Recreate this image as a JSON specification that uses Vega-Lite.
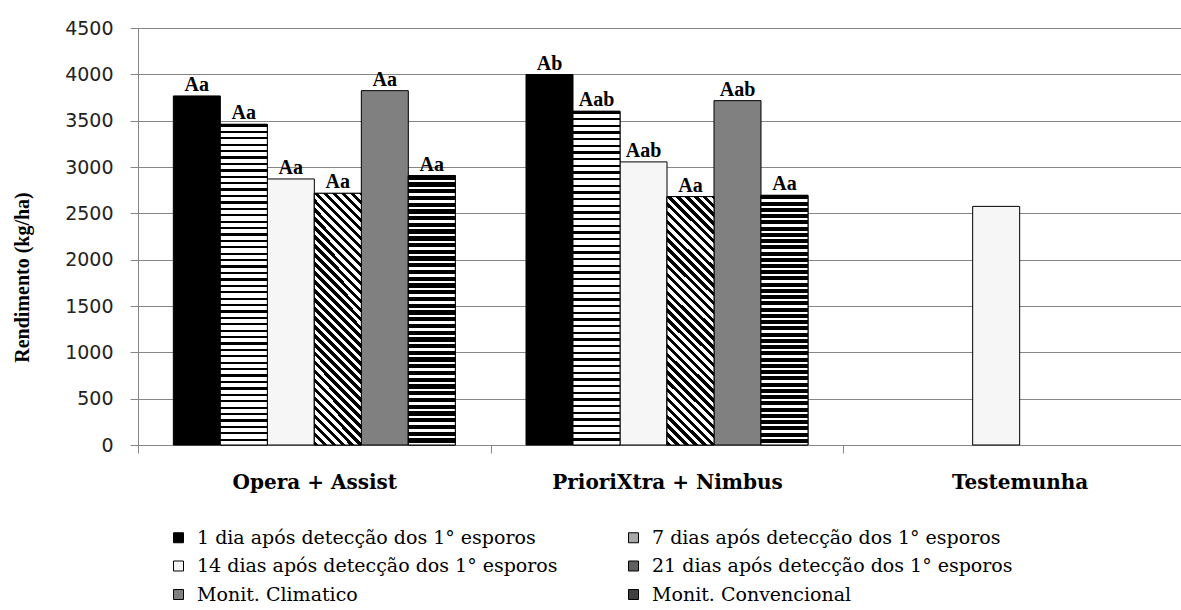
{
  "$schema": "https://vega.github.io/schema/vega-lite/v6.json",
  "width": 1043,
  "height": 417,
  "autosize": {"type": "none"},
  "padding": {"left": 138, "top": 28, "right": 0, "bottom": 165},
  "background": "white",
  "view": {"stroke": null},
  "data": {
    "values": [
      {"grupo": "Opera + Assist", "serie": "1 dia após detecção dos 1° esporos", "valor": 3767, "rotulo": "Aa"},
      {"grupo": "Opera + Assist", "serie": "7 dias após detecção dos 1° esporos", "valor": 3460, "rotulo": "Aa"},
      {"grupo": "Opera + Assist", "serie": "14 dias após detecção dos 1° esporos", "valor": 2871, "rotulo": "Aa"},
      {"grupo": "Opera + Assist", "serie": "21 dias após detecção dos 1° esporos", "valor": 2716, "rotulo": "Aa"},
      {"grupo": "Opera + Assist", "serie": "Monit. Climatico", "valor": 3824, "rotulo": "Aa"},
      {"grupo": "Opera + Assist", "serie": "Monit. Convencional", "valor": 2907, "rotulo": "Aa"},
      {"grupo": "PrioriXtra + Nimbus", "serie": "1 dia após detecção dos 1° esporos", "valor": 3998, "rotulo": "Ab"},
      {"grupo": "PrioriXtra + Nimbus", "serie": "7 dias após detecção dos 1° esporos", "valor": 3601, "rotulo": "Aab"},
      {"grupo": "PrioriXtra + Nimbus", "serie": "14 dias após detecção dos 1° esporos", "valor": 3055, "rotulo": "Aab"},
      {"grupo": "PrioriXtra + Nimbus", "serie": "21 dias após detecção dos 1° esporos", "valor": 2680, "rotulo": "Aa"},
      {"grupo": "PrioriXtra + Nimbus", "serie": "Monit. Climatico", "valor": 3716, "rotulo": "Aab"},
      {"grupo": "PrioriXtra + Nimbus", "serie": "Monit. Convencional", "valor": 2694, "rotulo": "Aa"},
      {"grupo": "Testemunha", "serie": "14 dias após detecção dos 1° esporos", "valor": 2575, "rotulo": ""}
    ]
  },
  "encoding": {
    "x": {
      "field": "grupo", "type": "nominal", "sort": null,
      "scale": {"domain": ["Opera + Assist", "PrioriXtra + Nimbus", "Testemunha"], "range": [0, 1058], "paddingInner": 0, "paddingOuter": 0},
      "axis": {
        "title": null, "tickBand": "extent", "labelAngle": 0, "labelAlign": "center", "labelLimit": 400,
        "tickSize": 8, "tickColor": "#868686", "domainColor": "#868686", "grid": false,
        "labelFont": "DejaVu Serif", "labelFontWeight": "bold", "labelFontSize": 20, "labelColor": "black",
        "labelPadding": 19
      }
    },
    "xOffset": {
      "field": "serie", "type": "nominal",
      "scale": {
        "domain": ["1 dia após detecção dos 1° esporos", "7 dias após detecção dos 1° esporos", "14 dias após detecção dos 1° esporos", "21 dias após detecção dos 1° esporos", "Monit. Climatico", "Monit. Convencional"],
        "paddingInner": 0, "paddingOuter": 0.752
      }
    },
    "y": {
      "field": "valor", "type": "quantitative",
      "scale": {"domain": [0, 4500], "nice": false, "zero": true},
      "axis": {
        "values": [0, 500, 1000, 1500, 2000, 2500, 3000, 3500, 4000, 4500],
        "format": "d",
        "grid": true, "gridColor": "#868686", "gridWidth": 1,
        "domainColor": "#868686", "tickColor": "#868686", "tickSize": 8,
        "labelFont": "DejaVu Sans", "labelFontSize": 19, "labelColor": "#222222", "labelPadding": 17,
        "title": "Rendimento (kg/ha)", "titleFont": "Liberation Serif", "titleFontSize": 20, "titleFontWeight": "bold",
        "titleColor": "black", "titleAngle": -90, "titleX": -116, "titleY": 249, "titleAlign": "center", "titleBaseline": "middle"
      }
    }
  },
  "layer": [
    {
      "mark": {"type": "bar", "stroke": "black", "strokeWidth": 1},
      "encoding": {
        "color": {
          "field": "serie", "type": "nominal",
          "scale": {
            "domain": ["1 dia após detecção dos 1° esporos", "14 dias após detecção dos 1° esporos", "Monit. Climatico", "7 dias após detecção dos 1° esporos", "21 dias após detecção dos 1° esporos", "Monit. Convencional"],
            "range": ["#000000", "#f6f6f6", "#808080", "#a8a8a8", "#606060", "#404040"]
          },
          "legend": {
            "orient": "none", "legendX": 31, "legendY": 500, "columns": 2, "title": null,
            "symbolType": "square", "symbolSize": 100, "symbolStrokeColor": "black", "symbolStrokeWidth": 1,
            "labelFont": "DejaVu Serif", "labelFontSize": 19, "labelColor": "black", "labelLimit": 600,
            "labelOffset": 9, "rowPadding": 8.5, "columnPadding": 66, "padding": 0
          }
        }
      }
    },
    {
      "transform": [{"filter": "datum.serie === '7 dias após detecção dos 1° esporos'"}],
      "mark": {"type": "bar", "stroke": "black", "strokeWidth": 1, "color": {"gradient": "linear", "x1": 0, "y1": 0, "x2": 0, "y2": 1, "stops": [
        {"offset": 0, "color": "#000"}, {"offset": 0.007, "color": "#000"}, {"offset": 0.007, "color": "#fff"}, {"offset": 0.02, "color": "#fff"},
        {"offset": 0.02, "color": "#000"}, {"offset": 0.027, "color": "#000"}, {"offset": 0.027, "color": "#fff"}, {"offset": 0.04, "color": "#fff"},
        {"offset": 0.04, "color": "#000"}, {"offset": 0.047, "color": "#000"}, {"offset": 0.047, "color": "#fff"}, {"offset": 0.06, "color": "#fff"},
        {"offset": 0.06, "color": "#000"}, {"offset": 0.067, "color": "#000"}, {"offset": 0.067, "color": "#fff"}, {"offset": 0.08, "color": "#fff"},
        {"offset": 0.08, "color": "#000"}, {"offset": 0.087, "color": "#000"}, {"offset": 0.087, "color": "#fff"}, {"offset": 0.1, "color": "#fff"},
        {"offset": 0.1, "color": "#000"}, {"offset": 0.107, "color": "#000"}, {"offset": 0.107, "color": "#fff"}, {"offset": 0.12, "color": "#fff"},
        {"offset": 0.12, "color": "#000"}, {"offset": 0.127, "color": "#000"}, {"offset": 0.127, "color": "#fff"}, {"offset": 0.14, "color": "#fff"},
        {"offset": 0.14, "color": "#000"}, {"offset": 0.147, "color": "#000"}, {"offset": 0.147, "color": "#fff"}, {"offset": 0.16, "color": "#fff"},
        {"offset": 0.16, "color": "#000"}, {"offset": 0.167, "color": "#000"}, {"offset": 0.167, "color": "#fff"}, {"offset": 0.18, "color": "#fff"},
        {"offset": 0.18, "color": "#000"}, {"offset": 0.187, "color": "#000"}, {"offset": 0.187, "color": "#fff"}, {"offset": 0.2, "color": "#fff"},
        {"offset": 0.2, "color": "#000"}, {"offset": 0.207, "color": "#000"}, {"offset": 0.207, "color": "#fff"}, {"offset": 0.22, "color": "#fff"},
        {"offset": 0.22, "color": "#000"}, {"offset": 0.227, "color": "#000"}, {"offset": 0.227, "color": "#fff"}, {"offset": 0.24, "color": "#fff"},
        {"offset": 0.24, "color": "#000"}, {"offset": 0.247, "color": "#000"}, {"offset": 0.247, "color": "#fff"}, {"offset": 0.26, "color": "#fff"},
        {"offset": 0.26, "color": "#000"}, {"offset": 0.267, "color": "#000"}, {"offset": 0.267, "color": "#fff"}, {"offset": 0.28, "color": "#fff"},
        {"offset": 0.28, "color": "#000"}, {"offset": 0.287, "color": "#000"}, {"offset": 0.287, "color": "#fff"}, {"offset": 0.3, "color": "#fff"},
        {"offset": 0.3, "color": "#000"}, {"offset": 0.307, "color": "#000"}, {"offset": 0.307, "color": "#fff"}, {"offset": 0.32, "color": "#fff"},
        {"offset": 0.32, "color": "#000"}, {"offset": 0.327, "color": "#000"}, {"offset": 0.327, "color": "#fff"}, {"offset": 0.34, "color": "#fff"},
        {"offset": 0.34, "color": "#000"}, {"offset": 0.347, "color": "#000"}, {"offset": 0.347, "color": "#fff"}, {"offset": 0.36, "color": "#fff"},
        {"offset": 0.36, "color": "#000"}, {"offset": 0.367, "color": "#000"}, {"offset": 0.367, "color": "#fff"}, {"offset": 0.38, "color": "#fff"},
        {"offset": 0.38, "color": "#000"}, {"offset": 0.387, "color": "#000"}, {"offset": 0.387, "color": "#fff"}, {"offset": 0.4, "color": "#fff"},
        {"offset": 0.4, "color": "#000"}, {"offset": 0.407, "color": "#000"}, {"offset": 0.407, "color": "#fff"}, {"offset": 0.42, "color": "#fff"},
        {"offset": 0.42, "color": "#000"}, {"offset": 0.427, "color": "#000"}, {"offset": 0.427, "color": "#fff"}, {"offset": 0.44, "color": "#fff"},
        {"offset": 0.44, "color": "#000"}, {"offset": 0.447, "color": "#000"}, {"offset": 0.447, "color": "#fff"}, {"offset": 0.46, "color": "#fff"},
        {"offset": 0.46, "color": "#000"}, {"offset": 0.467, "color": "#000"}, {"offset": 0.467, "color": "#fff"}, {"offset": 0.48, "color": "#fff"},
        {"offset": 0.48, "color": "#000"}, {"offset": 0.487, "color": "#000"}, {"offset": 0.487, "color": "#fff"}, {"offset": 0.5, "color": "#fff"},
        {"offset": 0.5, "color": "#000"}, {"offset": 0.507, "color": "#000"}, {"offset": 0.507, "color": "#fff"}, {"offset": 0.52, "color": "#fff"},
        {"offset": 0.52, "color": "#000"}, {"offset": 0.527, "color": "#000"}, {"offset": 0.527, "color": "#fff"}, {"offset": 0.54, "color": "#fff"},
        {"offset": 0.54, "color": "#000"}, {"offset": 0.547, "color": "#000"}, {"offset": 0.547, "color": "#fff"}, {"offset": 0.56, "color": "#fff"},
        {"offset": 0.56, "color": "#000"}, {"offset": 0.567, "color": "#000"}, {"offset": 0.567, "color": "#fff"}, {"offset": 0.58, "color": "#fff"},
        {"offset": 0.58, "color": "#000"}, {"offset": 0.587, "color": "#000"}, {"offset": 0.587, "color": "#fff"}, {"offset": 0.6, "color": "#fff"},
        {"offset": 0.6, "color": "#000"}, {"offset": 0.607, "color": "#000"}, {"offset": 0.607, "color": "#fff"}, {"offset": 0.62, "color": "#fff"},
        {"offset": 0.62, "color": "#000"}, {"offset": 0.627, "color": "#000"}, {"offset": 0.627, "color": "#fff"}, {"offset": 0.64, "color": "#fff"},
        {"offset": 0.64, "color": "#000"}, {"offset": 0.647, "color": "#000"}, {"offset": 0.647, "color": "#fff"}, {"offset": 0.66, "color": "#fff"},
        {"offset": 0.66, "color": "#000"}, {"offset": 0.667, "color": "#000"}, {"offset": 0.667, "color": "#fff"}, {"offset": 0.68, "color": "#fff"},
        {"offset": 0.68, "color": "#000"}, {"offset": 0.687, "color": "#000"}, {"offset": 0.687, "color": "#fff"}, {"offset": 0.7, "color": "#fff"},
        {"offset": 0.7, "color": "#000"}, {"offset": 0.707, "color": "#000"}, {"offset": 0.707, "color": "#fff"}, {"offset": 0.72, "color": "#fff"},
        {"offset": 0.72, "color": "#000"}, {"offset": 0.727, "color": "#000"}, {"offset": 0.727, "color": "#fff"}, {"offset": 0.74, "color": "#fff"},
        {"offset": 0.74, "color": "#000"}, {"offset": 0.747, "color": "#000"}, {"offset": 0.747, "color": "#fff"}, {"offset": 0.76, "color": "#fff"},
        {"offset": 0.76, "color": "#000"}, {"offset": 0.767, "color": "#000"}, {"offset": 0.767, "color": "#fff"}, {"offset": 0.78, "color": "#fff"},
        {"offset": 0.78, "color": "#000"}, {"offset": 0.787, "color": "#000"}, {"offset": 0.787, "color": "#fff"}, {"offset": 0.8, "color": "#fff"},
        {"offset": 0.8, "color": "#000"}, {"offset": 0.807, "color": "#000"}, {"offset": 0.807, "color": "#fff"}, {"offset": 0.82, "color": "#fff"},
        {"offset": 0.82, "color": "#000"}, {"offset": 0.827, "color": "#000"}, {"offset": 0.827, "color": "#fff"}, {"offset": 0.84, "color": "#fff"},
        {"offset": 0.84, "color": "#000"}, {"offset": 0.847, "color": "#000"}, {"offset": 0.847, "color": "#fff"}, {"offset": 0.86, "color": "#fff"},
        {"offset": 0.86, "color": "#000"}, {"offset": 0.867, "color": "#000"}, {"offset": 0.867, "color": "#fff"}, {"offset": 0.88, "color": "#fff"},
        {"offset": 0.88, "color": "#000"}, {"offset": 0.887, "color": "#000"}, {"offset": 0.887, "color": "#fff"}, {"offset": 0.9, "color": "#fff"},
        {"offset": 0.9, "color": "#000"}, {"offset": 0.907, "color": "#000"}, {"offset": 0.907, "color": "#fff"}, {"offset": 0.92, "color": "#fff"},
        {"offset": 0.92, "color": "#000"}, {"offset": 0.927, "color": "#000"}, {"offset": 0.927, "color": "#fff"}, {"offset": 0.94, "color": "#fff"},
        {"offset": 0.94, "color": "#000"}, {"offset": 0.947, "color": "#000"}, {"offset": 0.947, "color": "#fff"}, {"offset": 0.96, "color": "#fff"},
        {"offset": 0.96, "color": "#000"}, {"offset": 0.967, "color": "#000"}, {"offset": 0.967, "color": "#fff"}, {"offset": 0.98, "color": "#fff"},
        {"offset": 0.98, "color": "#000"}, {"offset": 0.987, "color": "#000"}, {"offset": 0.987, "color": "#fff"}, {"offset": 1, "color": "#fff"}
      ]}},
      "encoding": {}
    },
    {
      "transform": [{"filter": "datum.serie === '21 dias após detecção dos 1° esporos'"}],
      "mark": {"type": "bar", "stroke": "black", "strokeWidth": 1, "color": {"gradient": "linear", "x1": 0, "y1": 1, "x2": 0.2157, "y2": -0.1475, "stops": [
        {"offset": 0, "color": "#000"}, {"offset": 0.015, "color": "#000"}, {"offset": 0.015, "color": "#fff"}, {"offset": 0.03, "color": "#fff"},
        {"offset": 0.03, "color": "#000"}, {"offset": 0.045, "color": "#000"}, {"offset": 0.045, "color": "#fff"}, {"offset": 0.06, "color": "#fff"},
        {"offset": 0.06, "color": "#000"}, {"offset": 0.075, "color": "#000"}, {"offset": 0.075, "color": "#fff"}, {"offset": 0.09, "color": "#fff"},
        {"offset": 0.09, "color": "#000"}, {"offset": 0.105, "color": "#000"}, {"offset": 0.105, "color": "#fff"}, {"offset": 0.12, "color": "#fff"},
        {"offset": 0.12, "color": "#000"}, {"offset": 0.135, "color": "#000"}, {"offset": 0.135, "color": "#fff"}, {"offset": 0.15, "color": "#fff"},
        {"offset": 0.15, "color": "#000"}, {"offset": 0.165, "color": "#000"}, {"offset": 0.165, "color": "#fff"}, {"offset": 0.18, "color": "#fff"},
        {"offset": 0.18, "color": "#000"}, {"offset": 0.195, "color": "#000"}, {"offset": 0.195, "color": "#fff"}, {"offset": 0.21, "color": "#fff"},
        {"offset": 0.21, "color": "#000"}, {"offset": 0.225, "color": "#000"}, {"offset": 0.225, "color": "#fff"}, {"offset": 0.24, "color": "#fff"},
        {"offset": 0.24, "color": "#000"}, {"offset": 0.255, "color": "#000"}, {"offset": 0.255, "color": "#fff"}, {"offset": 0.27, "color": "#fff"},
        {"offset": 0.27, "color": "#000"}, {"offset": 0.285, "color": "#000"}, {"offset": 0.285, "color": "#fff"}, {"offset": 0.3, "color": "#fff"},
        {"offset": 0.3, "color": "#000"}, {"offset": 0.315, "color": "#000"}, {"offset": 0.315, "color": "#fff"}, {"offset": 0.33, "color": "#fff"},
        {"offset": 0.33, "color": "#000"}, {"offset": 0.345, "color": "#000"}, {"offset": 0.345, "color": "#fff"}, {"offset": 0.36, "color": "#fff"},
        {"offset": 0.36, "color": "#000"}, {"offset": 0.375, "color": "#000"}, {"offset": 0.375, "color": "#fff"}, {"offset": 0.39, "color": "#fff"},
        {"offset": 0.39, "color": "#000"}, {"offset": 0.405, "color": "#000"}, {"offset": 0.405, "color": "#fff"}, {"offset": 0.42, "color": "#fff"},
        {"offset": 0.42, "color": "#000"}, {"offset": 0.435, "color": "#000"}, {"offset": 0.435, "color": "#fff"}, {"offset": 0.45, "color": "#fff"},
        {"offset": 0.45, "color": "#000"}, {"offset": 0.465, "color": "#000"}, {"offset": 0.465, "color": "#fff"}, {"offset": 0.48, "color": "#fff"},
        {"offset": 0.48, "color": "#000"}, {"offset": 0.495, "color": "#000"}, {"offset": 0.495, "color": "#fff"}, {"offset": 0.51, "color": "#fff"},
        {"offset": 0.51, "color": "#000"}, {"offset": 0.525, "color": "#000"}, {"offset": 0.525, "color": "#fff"}, {"offset": 0.54, "color": "#fff"},
        {"offset": 0.54, "color": "#000"}, {"offset": 0.555, "color": "#000"}, {"offset": 0.555, "color": "#fff"}, {"offset": 0.57, "color": "#fff"},
        {"offset": 0.57, "color": "#000"}, {"offset": 0.585, "color": "#000"}, {"offset": 0.585, "color": "#fff"}, {"offset": 0.6, "color": "#fff"},
        {"offset": 0.6, "color": "#000"}, {"offset": 0.615, "color": "#000"}, {"offset": 0.615, "color": "#fff"}, {"offset": 0.63, "color": "#fff"},
        {"offset": 0.63, "color": "#000"}, {"offset": 0.645, "color": "#000"}, {"offset": 0.645, "color": "#fff"}, {"offset": 0.66, "color": "#fff"},
        {"offset": 0.66, "color": "#000"}, {"offset": 0.675, "color": "#000"}, {"offset": 0.675, "color": "#fff"}, {"offset": 0.69, "color": "#fff"},
        {"offset": 0.69, "color": "#000"}, {"offset": 0.705, "color": "#000"}, {"offset": 0.705, "color": "#fff"}, {"offset": 0.72, "color": "#fff"},
        {"offset": 0.72, "color": "#000"}, {"offset": 0.735, "color": "#000"}, {"offset": 0.735, "color": "#fff"}, {"offset": 0.75, "color": "#fff"},
        {"offset": 0.75, "color": "#000"}, {"offset": 0.765, "color": "#000"}, {"offset": 0.765, "color": "#fff"}, {"offset": 0.78, "color": "#fff"},
        {"offset": 0.78, "color": "#000"}, {"offset": 0.795, "color": "#000"}, {"offset": 0.795, "color": "#fff"}, {"offset": 0.81, "color": "#fff"},
        {"offset": 0.81, "color": "#000"}, {"offset": 0.825, "color": "#000"}, {"offset": 0.825, "color": "#fff"}, {"offset": 0.84, "color": "#fff"},
        {"offset": 0.84, "color": "#000"}, {"offset": 0.855, "color": "#000"}, {"offset": 0.855, "color": "#fff"}, {"offset": 0.87, "color": "#fff"},
        {"offset": 0.87, "color": "#000"}, {"offset": 0.885, "color": "#000"}, {"offset": 0.885, "color": "#fff"}, {"offset": 0.9, "color": "#fff"},
        {"offset": 0.9, "color": "#000"}, {"offset": 0.915, "color": "#000"}, {"offset": 0.915, "color": "#fff"}, {"offset": 0.93, "color": "#fff"},
        {"offset": 0.93, "color": "#000"}, {"offset": 0.945, "color": "#000"}, {"offset": 0.945, "color": "#fff"}, {"offset": 0.96, "color": "#fff"},
        {"offset": 0.96, "color": "#000"}, {"offset": 0.975, "color": "#000"}, {"offset": 0.975, "color": "#fff"}, {"offset": 0.99, "color": "#fff"},
        {"offset": 0.99, "color": "#000"}, {"offset": 1, "color": "#000"}
      ]}},
      "encoding": {}
    },
    {
      "transform": [{"filter": "datum.serie === 'Monit. Convencional'"}],
      "mark": {"type": "bar", "stroke": "black", "strokeWidth": 1, "color": {"gradient": "linear", "x1": 0, "y1": 0, "x2": 0, "y2": 1, "stops": [
        {"offset": 0, "color": "#000"}, {"offset": 0.016, "color": "#000"}, {"offset": 0.016, "color": "#fff"}, {"offset": 0.025, "color": "#fff"},
        {"offset": 0.025, "color": "#000"}, {"offset": 0.041, "color": "#000"}, {"offset": 0.041, "color": "#fff"}, {"offset": 0.05, "color": "#fff"},
        {"offset": 0.05, "color": "#000"}, {"offset": 0.066, "color": "#000"}, {"offset": 0.066, "color": "#fff"}, {"offset": 0.075, "color": "#fff"},
        {"offset": 0.075, "color": "#000"}, {"offset": 0.091, "color": "#000"}, {"offset": 0.091, "color": "#fff"}, {"offset": 0.1, "color": "#fff"},
        {"offset": 0.1, "color": "#000"}, {"offset": 0.116, "color": "#000"}, {"offset": 0.116, "color": "#fff"}, {"offset": 0.125, "color": "#fff"},
        {"offset": 0.125, "color": "#000"}, {"offset": 0.141, "color": "#000"}, {"offset": 0.141, "color": "#fff"}, {"offset": 0.15, "color": "#fff"},
        {"offset": 0.15, "color": "#000"}, {"offset": 0.166, "color": "#000"}, {"offset": 0.166, "color": "#fff"}, {"offset": 0.175, "color": "#fff"},
        {"offset": 0.175, "color": "#000"}, {"offset": 0.191, "color": "#000"}, {"offset": 0.191, "color": "#fff"}, {"offset": 0.2, "color": "#fff"},
        {"offset": 0.2, "color": "#000"}, {"offset": 0.216, "color": "#000"}, {"offset": 0.216, "color": "#fff"}, {"offset": 0.225, "color": "#fff"},
        {"offset": 0.225, "color": "#000"}, {"offset": 0.241, "color": "#000"}, {"offset": 0.241, "color": "#fff"}, {"offset": 0.25, "color": "#fff"},
        {"offset": 0.25, "color": "#000"}, {"offset": 0.266, "color": "#000"}, {"offset": 0.266, "color": "#fff"}, {"offset": 0.275, "color": "#fff"},
        {"offset": 0.275, "color": "#000"}, {"offset": 0.291, "color": "#000"}, {"offset": 0.291, "color": "#fff"}, {"offset": 0.3, "color": "#fff"},
        {"offset": 0.3, "color": "#000"}, {"offset": 0.316, "color": "#000"}, {"offset": 0.316, "color": "#fff"}, {"offset": 0.325, "color": "#fff"},
        {"offset": 0.325, "color": "#000"}, {"offset": 0.341, "color": "#000"}, {"offset": 0.341, "color": "#fff"}, {"offset": 0.35, "color": "#fff"},
        {"offset": 0.35, "color": "#000"}, {"offset": 0.366, "color": "#000"}, {"offset": 0.366, "color": "#fff"}, {"offset": 0.375, "color": "#fff"},
        {"offset": 0.375, "color": "#000"}, {"offset": 0.391, "color": "#000"}, {"offset": 0.391, "color": "#fff"}, {"offset": 0.4, "color": "#fff"},
        {"offset": 0.4, "color": "#000"}, {"offset": 0.416, "color": "#000"}, {"offset": 0.416, "color": "#fff"}, {"offset": 0.425, "color": "#fff"},
        {"offset": 0.425, "color": "#000"}, {"offset": 0.441, "color": "#000"}, {"offset": 0.441, "color": "#fff"}, {"offset": 0.45, "color": "#fff"},
        {"offset": 0.45, "color": "#000"}, {"offset": 0.466, "color": "#000"}, {"offset": 0.466, "color": "#fff"}, {"offset": 0.475, "color": "#fff"},
        {"offset": 0.475, "color": "#000"}, {"offset": 0.491, "color": "#000"}, {"offset": 0.491, "color": "#fff"}, {"offset": 0.5, "color": "#fff"},
        {"offset": 0.5, "color": "#000"}, {"offset": 0.516, "color": "#000"}, {"offset": 0.516, "color": "#fff"}, {"offset": 0.525, "color": "#fff"},
        {"offset": 0.525, "color": "#000"}, {"offset": 0.541, "color": "#000"}, {"offset": 0.541, "color": "#fff"}, {"offset": 0.55, "color": "#fff"},
        {"offset": 0.55, "color": "#000"}, {"offset": 0.566, "color": "#000"}, {"offset": 0.566, "color": "#fff"}, {"offset": 0.575, "color": "#fff"},
        {"offset": 0.575, "color": "#000"}, {"offset": 0.591, "color": "#000"}, {"offset": 0.591, "color": "#fff"}, {"offset": 0.6, "color": "#fff"},
        {"offset": 0.6, "color": "#000"}, {"offset": 0.616, "color": "#000"}, {"offset": 0.616, "color": "#fff"}, {"offset": 0.625, "color": "#fff"},
        {"offset": 0.625, "color": "#000"}, {"offset": 0.641, "color": "#000"}, {"offset": 0.641, "color": "#fff"}, {"offset": 0.65, "color": "#fff"},
        {"offset": 0.65, "color": "#000"}, {"offset": 0.666, "color": "#000"}, {"offset": 0.666, "color": "#fff"}, {"offset": 0.675, "color": "#fff"},
        {"offset": 0.675, "color": "#000"}, {"offset": 0.691, "color": "#000"}, {"offset": 0.691, "color": "#fff"}, {"offset": 0.7, "color": "#fff"},
        {"offset": 0.7, "color": "#000"}, {"offset": 0.716, "color": "#000"}, {"offset": 0.716, "color": "#fff"}, {"offset": 0.725, "color": "#fff"},
        {"offset": 0.725, "color": "#000"}, {"offset": 0.741, "color": "#000"}, {"offset": 0.741, "color": "#fff"}, {"offset": 0.75, "color": "#fff"},
        {"offset": 0.75, "color": "#000"}, {"offset": 0.766, "color": "#000"}, {"offset": 0.766, "color": "#fff"}, {"offset": 0.775, "color": "#fff"},
        {"offset": 0.775, "color": "#000"}, {"offset": 0.791, "color": "#000"}, {"offset": 0.791, "color": "#fff"}, {"offset": 0.8, "color": "#fff"},
        {"offset": 0.8, "color": "#000"}, {"offset": 0.816, "color": "#000"}, {"offset": 0.816, "color": "#fff"}, {"offset": 0.825, "color": "#fff"},
        {"offset": 0.825, "color": "#000"}, {"offset": 0.841, "color": "#000"}, {"offset": 0.841, "color": "#fff"}, {"offset": 0.85, "color": "#fff"},
        {"offset": 0.85, "color": "#000"}, {"offset": 0.866, "color": "#000"}, {"offset": 0.866, "color": "#fff"}, {"offset": 0.875, "color": "#fff"},
        {"offset": 0.875, "color": "#000"}, {"offset": 0.891, "color": "#000"}, {"offset": 0.891, "color": "#fff"}, {"offset": 0.9, "color": "#fff"},
        {"offset": 0.9, "color": "#000"}, {"offset": 0.916, "color": "#000"}, {"offset": 0.916, "color": "#fff"}, {"offset": 0.925, "color": "#fff"},
        {"offset": 0.925, "color": "#000"}, {"offset": 0.941, "color": "#000"}, {"offset": 0.941, "color": "#fff"}, {"offset": 0.95, "color": "#fff"},
        {"offset": 0.95, "color": "#000"}, {"offset": 0.966, "color": "#000"}, {"offset": 0.966, "color": "#fff"}, {"offset": 0.975, "color": "#fff"},
        {"offset": 0.975, "color": "#000"}, {"offset": 0.991, "color": "#000"}, {"offset": 0.991, "color": "#fff"}, {"offset": 1, "color": "#fff"}
      ]}},
      "encoding": {}
    },
    {
      "mark": {"type": "text", "font": "Liberation Serif", "fontWeight": "bold", "fontSize": 20, "color": "black", "align": "center", "baseline": "alphabetic", "dy": -5},
      "encoding": {
        "text": {"field": "rotulo", "type": "nominal"}
      }
    }
  ]
}
